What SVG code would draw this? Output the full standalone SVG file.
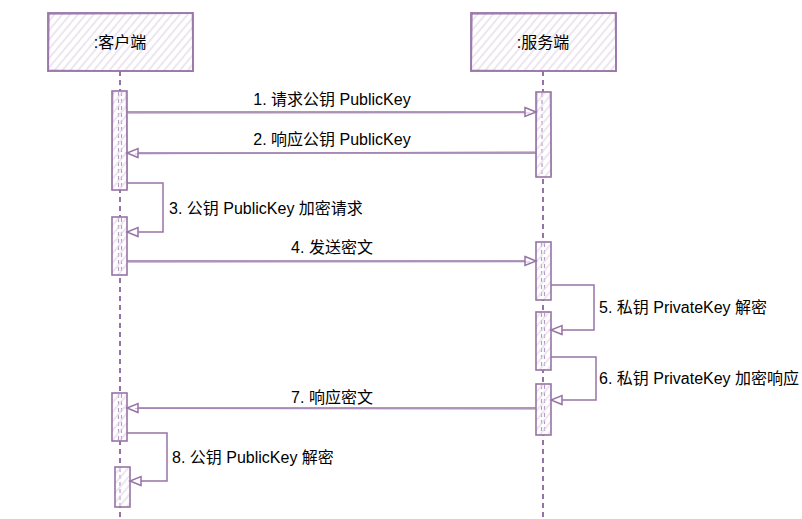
<svg xmlns="http://www.w3.org/2000/svg" width="802" height="519" viewBox="0 0 802 519">
<style>
  .hdr { fill: url(#hatch); stroke: #9673a6; stroke-width: 1.8; }
  .hdr2 { fill: none; stroke: #9673a6; stroke-width: 1; opacity: 0.6; }
  .act { fill: url(#hatchT); stroke: #9673a6; stroke-width: 1.6; }
  .life { fill: none; stroke: #9673a6; stroke-width: 2; stroke-dasharray: 5 4; }
  .lifeIn { fill: none; stroke: #b59cc2; stroke-width: 1.2; stroke-dasharray: 4 3; }
  .msg { fill: none; stroke: #9673a6; stroke-width: 1.5; }
  .msg2 { fill: none; stroke: #9673a6; stroke-width: 0.8; opacity: 0.6; }
  .lbl { font-family: "Liberation Sans", Arial, "Noto Sans CJK SC", sans-serif; font-size: 16px; fill: #000; }
  .mid { text-anchor: middle; }
</style>
<defs>
  <pattern id="hatch" patternUnits="userSpaceOnUse" width="6" height="6" patternTransform="rotate(-50)">
    <rect width="6" height="6" fill="#ffffff"/>
    <line x1="0" y1="3" x2="6" y2="3" stroke="#e1d5e7" stroke-width="1.2"/>
  </pattern>
  <pattern id="hatchT" patternUnits="userSpaceOnUse" width="6" height="6" patternTransform="rotate(-50)">
    <line x1="0" y1="3" x2="6" y2="3" stroke="#e1d5e7" stroke-width="1.2"/>
  </pattern>
  <marker id="arr" markerWidth="14" markerHeight="12" refX="12" refY="6" orient="auto" markerUnits="userSpaceOnUse">
    <path d="M1,1.5 L12,6 L1,10.5 Z" fill="#ffffff" stroke="#9673a6" stroke-width="1.5"/>
  </marker>
</defs>
<rect width="802" height="519" fill="#ffffff"/>

<g id="client">
  <line class="life" x1="120" y1="71" x2="120" y2="519"/>
  <rect class="hdr" x="48" y="13" width="145" height="58"/>
  <path class="hdr2" d="M49,14.5 L192,13.5 M47.5,70 L193.5,71.5 M49.5,12 L48.5,72 M192,12.5 L193,72"/>
  <text class="lbl mid" x="120" y="48">:客户端</text>
</g>
<g id="server">
  <line class="life" x1="543" y1="71" x2="543" y2="519"/>
  <rect class="hdr" x="471" y="13" width="145" height="58"/>
  <path class="hdr2" d="M472,14.5 L615,13.5 M470.5,70 L616.5,71.5 M472.5,12 L471.5,72 M615,12.5 L616,72"/>
  <text class="lbl mid" x="543" y="48">:服务端</text>
</g>

<g id="client-act1"><rect fill="#fff" x="112" y="91" width="15" height="99"/><line class="lifeIn" x1="118.5" y1="92" x2="118.5" y2="190"/><line class="lifeIn" x1="121.5" y1="92" x2="121.5" y2="190"/><rect class="act" x="112" y="91" width="15" height="99"/><path class="hdr2" d="M113,92 L112,190 M126,91 L127.5,189"/></g>
<g id="client-act2"><rect fill="#fff" x="112" y="217" width="15" height="58"/><line class="lifeIn" x1="118.5" y1="218" x2="118.5" y2="275"/><line class="lifeIn" x1="121.5" y1="218" x2="121.5" y2="275"/><rect class="act" x="112" y="217" width="15" height="58"/></g>
<g id="client-act3"><rect fill="#fff" x="112" y="393" width="15" height="48"/><line class="lifeIn" x1="118.5" y1="394" x2="118.5" y2="441"/><line class="lifeIn" x1="121.5" y1="394" x2="121.5" y2="441"/><rect class="act" x="112" y="393" width="15" height="48"/></g>
<g id="client-act4"><rect fill="#fff" x="115" y="467" width="15" height="40"/><line class="lifeIn" x1="120" y1="468" x2="120" y2="507"/><rect class="act" x="115" y="467" width="15" height="40"/></g>

<g id="server-act1"><rect fill="#fff" x="536" y="92" width="15" height="85"/><line class="lifeIn" x1="542" y1="93" x2="542" y2="177"/><rect class="act" x="536" y="92" width="15" height="85"/><path class="hdr2" d="M537,93 L536,177 M550,92 L551.5,176"/></g>
<g id="server-act2"><rect fill="#fff" x="536" y="242" width="15" height="58"/><line class="lifeIn" x1="541.5" y1="243" x2="541.5" y2="300"/><line class="lifeIn" x1="544.5" y1="243" x2="544.5" y2="300"/><rect class="act" x="536" y="242" width="15" height="58"/></g>
<g id="server-act3"><rect fill="#fff" x="536" y="312" width="15" height="58"/><line class="lifeIn" x1="541.5" y1="313" x2="541.5" y2="370"/><line class="lifeIn" x1="544.5" y1="313" x2="544.5" y2="370"/><rect class="act" x="536" y="312" width="15" height="58"/></g>
<g id="server-act4"><rect fill="#fff" x="536" y="384" width="15" height="51"/><line class="lifeIn" x1="541.5" y1="385" x2="541.5" y2="435"/><line class="lifeIn" x1="544.5" y1="385" x2="544.5" y2="435"/><rect class="act" x="536" y="384" width="15" height="51"/></g>

<g id="connectors">
  <path class="msg" d="M127,112 L536,112" marker-end="url(#arr)"/>
  <path class="msg2" d="M128,113.5 L530,113"/>
  <path class="msg" d="M536,153 L127,153" marker-end="url(#arr)"/>
  <path class="msg2" d="M535,151.5 L135,154"/>
  <path class="msg" d="M127,183 L163,183 L163,232 L127,232" marker-end="url(#arr)"/>
  <path class="msg" d="M127,261 L536,261" marker-end="url(#arr)"/>
  <path class="msg2" d="M128,262.5 L530,262"/>
  <path class="msg" d="M551,285 L594,285 L594,330 L551,330" marker-end="url(#arr)"/>
  <path class="msg" d="M551,357 L596,357 L596,400 L551,400" marker-end="url(#arr)"/>
  <path class="msg" d="M536,408 L127,408" marker-end="url(#arr)"/>
  <path class="msg2" d="M535,409.5 L135,408.5"/>
  <path class="msg" d="M127,433 L167,433 L167,481 L130,481" marker-end="url(#arr)"/>
</g>

<g id="labels">
  <text class="lbl mid" x="332" y="105">1. 请求公钥 PublicKey</text>
  <text class="lbl mid" x="332" y="145">2. 响应公钥 PublicKey</text>
  <text class="lbl" x="169" y="214">3. 公钥 PublicKey 加密请求</text>
  <text class="lbl mid" x="332" y="253">4. 发送密文</text>
  <text class="lbl" x="599" y="313">5. 私钥 PrivateKey 解密</text>
  <text class="lbl" x="599" y="384">6. 私钥 PrivateKey 加密响应</text>
  <text class="lbl mid" x="332" y="403">7. 响应密文</text>
  <text class="lbl" x="172" y="463">8. 公钥 PublicKey 解密</text>
</g>
</svg>
